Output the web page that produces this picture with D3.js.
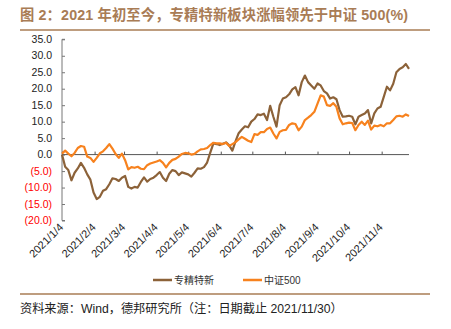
<!DOCTYPE html>
<html><head><meta charset="utf-8">
<script src="https://cdn.jsdelivr.net/npm/d3@7/dist/d3.min.js"></script>
<style>body{margin:0;background:#fff}svg{display:block}</style>
</head><body>
<svg id="c" width="451" height="329"></svg>
<script>
const title = "图 2：2021 年初至今，专精特新板块涨幅领先于中证 500(%)";
const source = "资料来源：Wind，德邦研究所（注：日期截止 2021/11/30）";
const seriesNames = ["专精特新", "中证500"];
const tickDates = ["1/4","2/4","3/4","4/4","5/4","6/4","7/4","8/4","9/4","10/4","11/4"];
const yTicks = [35,30,25,20,15,10,5,0,-5,-10,-15,-20];
const dates = [
"1/4","1/7","1/10","1/13","1/16","1/19","1/22","1/25","1/28","1/31",
"2/3","2/6","2/9","2/12","2/15","2/18","2/21","2/24","2/27",
"3/2","3/5","3/8","3/11","3/14","3/17","3/20","3/23","3/26","3/29",
"4/1","4/4","4/7","4/10","4/13","4/16","4/19","4/22","4/25","4/28",
"5/1","5/4","5/7","5/10","5/13","5/16","5/19","5/22","5/25","5/28","5/31",
"6/3","6/6","6/9","6/12","6/15","6/18","6/21","6/24","6/27","6/30",
"7/3","7/6","7/9","7/12","7/15","7/18","7/21","7/24","7/27","7/30",
"8/2","8/5","8/8","8/11","8/14","8/17","8/20","8/23","8/26","8/29",
"9/1","9/4","9/7","9/10","9/13","9/16","9/19","9/22","9/25","9/28",
"10/1","10/4","10/7","10/10","10/13","10/16","10/19","10/22","10/25","10/28","10/31",
"11/3","11/6","11/9","11/12","11/15","11/18","11/21","11/24","11/27","11/30"];
const zjtx = [
0,-3.7,-4.7,-7.8,-5.5,-4.2,-2.5,-4.0,-6.0,-7.6,
-11.5,-13.5,-12.8,-11.0,-10.5,-9.0,-7.2,-7.4,-8.0,
-7.0,-6.5,-9.8,-10.3,-9.8,-10.0,-8.3,-6.9,-8.2,-7.4,
-7.0,-6.2,-5.3,-7.0,-8.0,-5.8,-4.7,-5.0,-6.2,-5.4,
-5.7,-6.0,-6.7,-5.5,-4.2,-4.3,-3.8,-2.4,0.6,3.4,3.2,
2.9,3.3,3.7,2.8,1.2,4.0,6.5,7.6,8.6,8.3,
10.0,10.8,12.2,12.0,12.4,10.5,14.8,11.5,8.5,15.0,
17.0,17.4,18.3,19.8,20.5,18.0,22.0,24.0,22.0,21.0,
20.0,21.6,21.0,19.3,18.6,17.0,17.4,16.8,13.5,11.5,
11.6,11.8,11.5,9.2,11.5,12.0,12.5,13.5,9.5,12.5,14.0,
14.5,17.5,20.6,19.5,21.5,25.0,26.0,26.5,27.5,26.0];
const zz500 = [
0.3,1.2,0.3,-0.5,0.5,2.0,2.6,2.4,-0.6,-1.0,
-2.2,-1.0,0.4,1.0,2.0,3.2,1.8,0.2,-1.0,
0.3,-1.7,-4.5,-3.8,-4.0,-3.7,-4.3,-4.4,-3.2,-2.7,
-2.4,-2.1,-1.7,-2.5,-3.9,-2.5,-1.6,-1.3,-0.6,0.2,
0.5,0.4,0.0,0.2,1.0,1.6,1.7,2.0,2.9,3.6,3.4,
3.4,3.2,3.6,2.6,3.2,3.8,4.6,5.4,4.8,4.2,
3.8,6.2,6.0,6.8,6.8,7.8,8.2,6.4,4.9,6.9,
7.4,7.5,9.0,9.5,9.3,7.4,8.5,10.5,11.2,12.0,
13.0,15.5,18.0,17.6,15.0,14.8,15.6,14.5,11.0,9.2,
9.5,9.7,9.6,7.4,9.0,10.0,9.0,10.3,7.6,8.8,8.6,
9.0,8.6,9.5,9.5,10.5,11.6,11.8,11.5,12.2,11.7];

const parse = s => { const [m,d] = s.split("/").map(Number); return new Date(2021, m-1, d); };
const brown = "#8c6239", orange = "#f7821e", accent = "#a97c55";
const svg = d3.select("#c");
const font = "'Liberation Sans', Arial, 'Noto Sans CJK SC', sans-serif";

// title
svg.append("text").attr("x", 20).attr("y", 20).attr("font-family", font)
  .attr("font-size", 14.3).attr("font-weight", "bold").attr("fill", accent)
  .attr("textLength", 388).attr("lengthAdjust", "spacing").text(title);
svg.append("line").attr("x1", 20).attr("x2", 430).attr("y1", 30).attr("y2", 30)
  .attr("stroke", accent).attr("stroke-width", 1.5);

const x = d3.scaleTime().domain([parse(dates[0]), parse(dates[dates.length-1])]).range([62, 409]);
const y = d3.scaleLinear().domain([-20, 35]).range([220.5, 39.3]);

// y axis
const ya = svg.append("g").attr("transform", "translate(62,0)")
  .call(d3.axisRight(y).tickValues(yTicks).tickSize(3).tickFormat(""));
ya.select(".domain").attr("stroke", "#777").attr("d", `M3,${y(35)}H0V${y(-20)}H3`);
ya.selectAll(".tick line").attr("stroke", "#777");
svg.append("g").selectAll("text").data(yTicks).join("text")
  .attr("x", 52).attr("y", d => y(d) + 3.5).attr("text-anchor", "end")
  .attr("font-family", font).attr("font-size", 10.5)
  .attr("fill", d => d < 0 ? "#ff0000" : "#222")
  .text(d => d < 0 ? `(${Math.abs(d).toFixed(1)})` : d.toFixed(1));

// x axis on zero line
const xa = svg.append("g").attr("transform", `translate(0,${y(0)})`)
  .call(d3.axisTop(x).tickValues(tickDates.map(parse)).tickSize(3).tickFormat(""));
xa.select(".domain").attr("stroke", "#555").attr("d", `M62,0H409`);
xa.selectAll(".tick line").attr("stroke", "#555");
svg.append("g").selectAll("text").data(tickDates).join("text")
  .attr("transform", d => `translate(${x(parse(d)) + 2},228) rotate(-45)`)
  .attr("text-anchor", "end").attr("font-family", font).attr("font-size", 11)
  .attr("fill", "#222").text(d => "2021/" + d);

// lines
const line = vals => d3.line().x((d, i) => x(parse(dates[i]))).y(d => y(d))(vals);
svg.append("path").attr("d", line(zjtx)).attr("fill", "none").attr("stroke", brown)
  .attr("stroke-width", 2.2).attr("stroke-linejoin", "round");
svg.append("path").attr("d", line(zz500)).attr("fill", "none").attr("stroke", orange)
  .attr("stroke-width", 2.2).attr("stroke-linejoin", "round");

// legend
const leg = [{n: seriesNames[0], c: brown, x: 153}, {n: seriesNames[1], c: orange, x: 243}];
const lg = svg.append("g").selectAll("g").data(leg).join("g");
lg.append("line").attr("x1", d => d.x).attr("x2", d => d.x + 19).attr("y1", 280).attr("y2", 280)
  .attr("stroke", d => d.c).attr("stroke-width", 2.5);
lg.append("text").attr("x", d => d.x + 21).attr("y", 284).attr("font-family", font)
  .attr("font-size", 10).attr("fill", "#333").text(d => d.n);

// footer
svg.append("line").attr("x1", 20).attr("x2", 430).attr("y1", 294).attr("y2", 294)
  .attr("stroke", accent).attr("stroke-width", 1.5);
svg.append("text").attr("x", 20).attr("y", 313).attr("font-family", font)
  .attr("font-size", 12.2).attr("fill", "#222").text(source);
</script>
</body></html>
